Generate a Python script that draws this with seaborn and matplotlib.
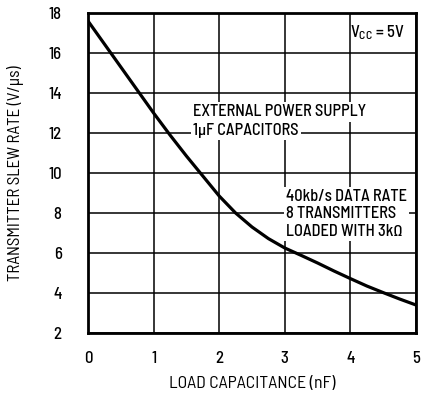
import matplotlib
matplotlib.use("Agg")
import matplotlib.pyplot as plt
import pandas as pd
import seaborn as sns

# Slew rate versus load capacitance
load_nf = [0, 0.25, 0.5, 0.75, 1, 1.25, 1.5, 1.75, 2, 2.25, 2.5, 2.75,
           3, 3.25, 3.5, 3.75, 4, 4.25, 4.5, 4.75, 5]
slew_rate = [17.6, 16.45, 15.3, 14.15, 13.0, 11.9, 10.85, 9.85, 8.85, 8.0, 7.3, 6.72,
             6.25, 5.88, 5.5, 5.1, 4.72, 4.35, 4.02, 3.7, 3.4]

x_ticks = [0, 1, 2, 3, 4, 5]
y_ticks = [2, 4, 6, 8, 10, 12, 14, 16, 18]

sns.set_theme(style="white")
FONT = "Barlow Semi Condensed"
plt.rcParams["font.family"] = [FONT, "DejaVu Sans"]
plt.rcParams["font.weight"] = 500
plt.rcParams["mathtext.fontset"] = "custom"
plt.rcParams["mathtext.rm"] = FONT + ":medium"
plt.rcParams["mathtext.it"] = FONT + ":medium"
plt.rcParams["mathtext.default"] = "rm"

df = pd.DataFrame({"load": load_nf, "slew": slew_rate})

fig = plt.figure(figsize=(4.24, 3.93), dpi=100)
ax = fig.add_axes([88 / 424, 60 / 393, 328 / 424, 320 / 393])

sns.lineplot(data=df, x="load", y="slew", ax=ax, color="black", lw=2.3, zorder=5)

ax.set_xlim(0, 5)
ax.set_ylim(2, 18)
ax.set_xticks(x_ticks)
ax.set_yticks(y_ticks)
ax.set_xticklabels([str(v) for v in x_ticks])
ax.set_yticklabels([str(v) for v in y_ticks])
ax.tick_params(axis="x", length=0, pad=13, labelsize=12, colors="black")
ax.tick_params(axis="y", length=0, pad=19, labelsize=12, colors="black")

ax.set_axisbelow(True)
ax.grid(True, color="black", lw=1.1)
for s in ax.spines.values():
    s.set_visible(True)
    s.set_color("black")
    s.set_linewidth(2.0)

ax.set_xlabel("LOAD CAPACITANCE (nF)", fontsize=12.8, color="black", labelpad=7)
ax.set_ylabel("TRANSMITTER SLEW RATE (V/μs)", fontsize=12.3, color="black", labelpad=17)

box = dict(facecolor="white", edgecolor="none", pad=1.5)
ax.text(4.0, 17.0, r"V$_{CC}$ = 5V", fontsize=12, color="black", va="center", ha="left")
ax.text(1.6, 13.05, "EXTERNAL POWER SUPPLY", fontsize=11.8, color="black",
        va="center", ha="left", bbox=box, zorder=3)
ax.text(1.6, 12.15, "1μF CAPACITORS", fontsize=11.8, color="black",
        va="center", ha="left", bbox=box, zorder=3)
ax.text(3.02, 7.95, "40kb/s DATA RATE\n8 TRANSMITTERS\nLOADED WITH 3kΩ", fontsize=11.8,
        color="black", va="center", ha="left", linespacing=1.22, bbox=box, zorder=3)

fig.savefig("out.png", dpi=100, facecolor="white")
